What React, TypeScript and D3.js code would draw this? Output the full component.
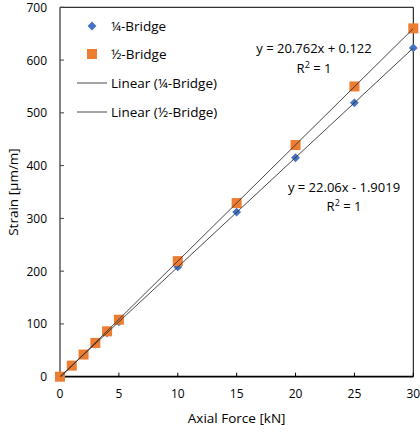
import React from "react";
import * as d3 from "d3";

const forces = [0, 1, 2, 3, 4, 5, 10, 15, 20, 25, 30];
const quarterBridge = [0, 21, 42, 62, 83, 104, 208, 312, 415, 519, 623];
const halfBridge = [0, 21, 42, 64, 86, 108, 219, 329, 439, 550, 660];
const xTicks = [0, 5, 10, 15, 20, 25, 30];
const yTicks = [0, 100, 200, 300, 400, 500, 600, 700];
const seriesNames = ["¼-Bridge", "½-Bridge"];
const trendNames = ["Linear (¼-Bridge)", "Linear (½-Bridge)"];
const equations = ["y = 20.762x + 0.122", "y = 22.06x - 1.9019"];

const W = 420, H = 432;
const M = { left: 60, right: 6.7, top: 7.3, bottom: 55.3 };
const FONT = "'Open Sans', 'Noto Sans', sans-serif";

function fit(xs: number[], ys: number[]) {
  const mx = d3.mean(xs)!, my = d3.mean(ys)!;
  let sxy = 0, sxx = 0;
  xs.forEach((x, i) => { sxy += (x - mx) * (ys[i] - my); sxx += (x - mx) ** 2; });
  const b = sxy / sxx;
  return { b, a: my - b * mx };
}

export default function App() {
  const x = d3.scaleLinear().domain([0, 30]).range([M.left, W - M.right]);
  const y = d3.scaleLinear().domain([0, 700]).range([H - M.bottom, M.top]);
  const fq = fit(forces, quarterBridge);
  const fh = fit(forces, halfBridge);
  const line = d3.line<number[]>().x((d) => x(d[0])).y((d) => y(d[1]));
  const trend = (f: { a: number; b: number }) => line([[0, f.a], [30, f.a + f.b * 30]]);
  const diamond = d3.symbol().type(d3.symbolDiamond2).size(50)()!;
  const x0 = x(0), x1 = x(30), y0 = y(0), y1 = y(700);

  return (
    <svg width={W} height={H} style={{ position: "absolute", left: 0, top: 0, background: "#fff" }} fontFamily={FONT}>
      <defs>
        <clipPath id="plot">
          <rect x={x0} y={y1} width={x1 - x0} height={y0 - y1} />
        </clipPath>
      </defs>
      <line x1={x0} x2={x1} y1={y1} y2={y1} stroke="#000" strokeWidth={1} />
      <line x1={x1} x2={x1} y1={y1} y2={y0} stroke="#000" strokeWidth={1} />
      <line x1={x0} x2={x0} y1={y1} y2={y0} stroke="#404040" strokeWidth={1.3} />
      <line x1={x0} x2={x1} y1={y0} y2={y0} stroke="#000" strokeWidth={1.8} />
      {yTicks.map((t) => (
        <g key={"y" + t}>
          <line x1={x0} x2={x0 + 4} y1={y(t)} y2={y(t)} stroke="#404040" />
          <text x={47} y={y(t) + 4.5} textAnchor="end" fontSize={12} fill="#000">{t}</text>
        </g>
      ))}
      {xTicks.map((t) => (
        <g key={"x" + t}>
          <line x1={x(t)} x2={x(t)} y1={y0} y2={y0 - 4} stroke="#000" />
          <text x={x(t)} y={398} textAnchor="middle" fontSize={12} fill="#000">{t}</text>
        </g>
      ))}
      <text x={(x0 + x1) / 2} y={423} textAnchor="middle" fontSize={13.5} fill="#000">Axial Force [kN]</text>
      <text transform={`translate(18,192) rotate(-90)`} textAnchor="middle" fontSize={13.5} fill="#000">Strain [µm/m]</text>

      {forces.map((f, i) => (
        <path key={"q" + i} d={diamond} transform={`translate(${x(f)},${y(quarterBridge[i])})`} fill="#4472C4" />
      ))}
      {forces.map((f, i) => (
        <rect key={"h" + i} x={x(f) - 5} y={y(halfBridge[i]) - 5} width={10} height={10} fill="#ED7D31" />
      ))}
      <g clipPath="url(#plot)">
        <path d={trend(fq)!} stroke="#333" strokeWidth={0.9} fill="none" />
        <path d={trend(fh)!} stroke="#333" strokeWidth={0.9} fill="none" />
      </g>

      <text x={314} y={53} textAnchor="middle" fontSize={13} fill="#000">{equations[0]}</text>
      <text x={314} y={72.5} textAnchor="middle" fontSize={13} fill="#000">R<tspan dy={-5} fontSize={9}>2</tspan><tspan dy={5}> = 1</tspan></text>
      <text x={344} y={192} textAnchor="middle" fontSize={13} fill="#000">{equations[1]}</text>
      <text x={344} y={211} textAnchor="middle" fontSize={13} fill="#000">R<tspan dy={-5} fontSize={9}>2</tspan><tspan dy={5}> = 1</tspan></text>

      <path d={diamond} transform="translate(92,26)" fill="#4472C4" />
      <text x={111} y={31} fontSize={13.5} fill="#000">{seriesNames[0]}</text>
      <rect x={87} y={49} width={10} height={10} fill="#ED7D31" />
      <text x={111} y={59} fontSize={13.5} fill="#000">{seriesNames[1]}</text>
      <line x1={77} x2={107} y1={83} y2={83} stroke="#333" strokeWidth={0.9} />
      <text x={111} y={88} fontSize={13.5} fill="#000">{trendNames[0]}</text>
      <line x1={77} x2={107} y1={112} y2={112} stroke="#333" strokeWidth={0.9} />
      <text x={111} y={117} fontSize={13.5} fill="#000">{trendNames[1]}</text>
    </svg>
  );
}
